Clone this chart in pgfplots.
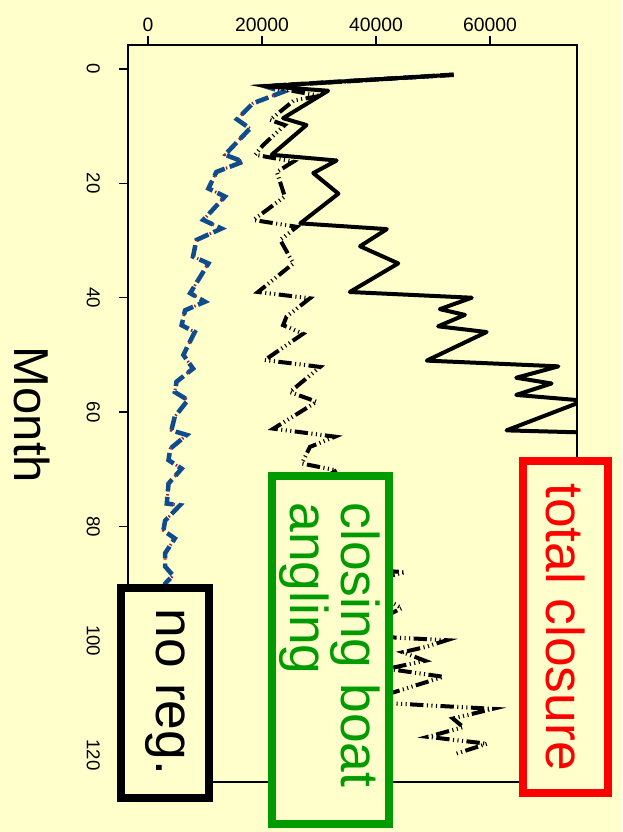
\documentclass[border=0pt]{standalone}
\usepackage{fontspec}
\setmainfont{Liberation Sans}
\usepackage{pgfplots}
\pgfplotsset{compat=1.18}
\definecolor{bg}{RGB}{255,255,204}
\definecolor{noregblue}{RGB}{16,76,140}
\definecolor{noregred}{RGB}{160,20,80}
\definecolor{boxgreen}{RGB}{0,155,0}
\begin{document}
\begin{tikzpicture}
\fill[bg] (-96pt,-37.5pt) rectangle (370.5pt,586.5pt);
\begin{axis}[
  at={(0pt,0pt)}, anchor=south west,
  scale only axis, width=336.75pt, height=552.75pt,
  xmin=-3509, xmax=75263, ymin=-4.2, ymax=124.7, y dir=reverse,
  scaled x ticks=false, scaled y ticks=false,
  xtick={0,20000,40000,60000}, xticklabels={0,20000,40000,60000},
  ytick={0,20,40,60,80,100,120}, yticklabels={0,20,40,60,80,100,120},
  xtick pos=right, xticklabel pos=right, ytick pos=left,
  tick align=outside, major tick length=6.5pt,
  axis line style={line width=1pt},
  every tick/.style={black, line width=0.9pt},
  xticklabel style={font=\fontsize{14.5}{16}\selectfont},
  yticklabel style={font=\fontsize{14}{16}\selectfont, rotate=-90, anchor=north},
  yticklabel shift=11pt,
  axis background/.style={fill=bg},
]
% no reg. (red dotted underneath)
\addplot[noregred, line width=2.2pt, dash pattern=on 1pt off 3pt] coordinates {
(53600,1) (20500,3) (23700,4) (18400,6) (15600,8.8) (17900,10.4) (13500,15) (16700,16.2)
(12000,18) (10600,20.9) (13500,22.3) (9700,26.4) (12900,27.9) (8500,29.9) (7900,32.8)
(10600,34) (7400,39.2) (10000,40.7) (6500,42.2) (5900,44.8) (8200,46) (6200,50) (7900,52.4)
(5000,54.7) (4700,56.5) (7000,57.9) (4700,60.8) (4100,63.2) (6800,64) (3900,66.4) (3600,68.4)
(5900,69.9) (3600,72.5) (3300,76) (5600,76.3) (3000,79) (2700,80.7) (4700,82.1) (3000,84.7)
(3000,87) (4400,88.6) (3000,90) (2900,91) (2700,93.5) (4200,94.3) (2600,97) (2500,99)
(3800,100.5) (2500,103) (2400,106) (3600,106.5) (2400,109) (2300,111) (3400,112.5)
(2300,115) (2200,118) (3300,118.5) (2200,120)};
% no reg. (blue dashed)
\addplot[noregblue, line width=3.4pt, dash pattern=on 10pt off 4pt] coordinates {
(53600,1) (20500,3) (23700,4) (18400,6) (15600,8.8) (17900,10.4) (13500,15) (16700,16.2)
(12000,18) (10600,20.9) (13500,22.3) (9700,26.4) (12900,27.9) (8500,29.9) (7900,32.8)
(10600,34) (7400,39.2) (10000,40.7) (6500,42.2) (5900,44.8) (8200,46) (6200,50) (7900,52.4)
(5000,54.7) (4700,56.5) (7000,57.9) (4700,60.8) (4100,63.2) (6800,64) (3900,66.4) (3600,68.4)
(5900,69.9) (3600,72.5) (3300,76) (5600,76.3) (3000,79) (2700,80.7) (4700,82.1) (3000,84.7)
(3000,87) (4400,88.6) (3000,90) (2900,91) (2700,93.5) (4200,94.3) (2600,97) (2500,99)
(3800,100.5) (2500,103) (2400,106) (3600,106.5) (2400,109) (2300,111) (3400,112.5)
(2300,115) (2200,118) (3300,118.5) (2200,120)};
% closing boat angling (dash-dot)
\addplot[black, line width=3pt, dash pattern=on 10pt off 2.6pt on 0.8pt off 2.6pt on 0.8pt off 2.6pt on 0.8pt off 2.6pt] coordinates {
(53600,1) (20800,3) (30200,4.7) (25600,5.5) (21400,8.9) (24000,9.8) (20200,13.3) (18800,15)
(25500,16.2) (22600,18) (24000,22.3) (18500,26.4) (26100,27.6) (23200,29.9) (25500,34)
(19300,39) (28400,40.1) (24300,43.3) (23700,44.8) (27200,46.3) (20500,50.9) (30200,52.1)
(24900,56.5) (29600,58.2) (22000,62.9) (32800,64.3) (28400,66.1) (27000,69) (33100,70.2)
(25000,75) (36000,76) (31000,78) (39000,82) (29000,87) (45100,88) (37000,90) (44500,94.3)
(35000,99) (52400,99.9) (48600,101.1) (44700,102) (48600,103.5) (42000,104.9) (51800,106.3)
(42500,109.2) (40000,110.8) (60500,111.9) (53500,113.6) (55300,115.1) (49100,116.8)
(59500,118) (53900,119.8)};
% total closure (solid)
\addplot[black, line width=3pt, line join=round] coordinates {
(53600,1) (20500,3) (31600,3.8) (23700,8.6) (27800,9.8) (21700,15) (33100,16) (29000,18.2)
(33400,21.8) (26700,27) (41900,28) (37200,31) (43900,34) (35400,39) (56800,40) (51200,42)
(55600,43) (50900,45) (59400,46) (48900,51) (72000,52) (64600,54) (70800,55) (64600,57)
(76500,58) (62900,63.2) (85000,63.8)};
\end{axis}
% legend boxes
\draw[red, line width=6pt, fill=bg] (296.25pt,-8.25pt) rectangle (360pt,240.75pt);
\draw[boxgreen, line width=6pt, fill=bg] (107.625pt,-31.5pt) rectangle (195.75pt,229.5pt);
\draw[black, line width=6pt, fill=bg] (-5.25pt,-12pt) rectangle (60.75pt,145.5pt);
\node[red, rotate=-90, font=\fontsize{40}{40}\selectfont] at (328.125pt,116.25pt) {total closure};
\node[boxgreen, rotate=-90, align=left, font=\fontsize{40}{36}\selectfont] at (151.5pt,102.75pt) {closing boat\\angling};
\node[black, rotate=-90, font=\fontsize{40}{40}\selectfont] at (27.75pt,67.5pt) {no reg.};
\node[black, rotate=-90, font=\fontsize{36.75}{40}\selectfont] at (-72pt,275.25pt) {Month};
\pgfresetboundingbox
\useasboundingbox (-96pt,-37.5pt) rectangle (370.5pt,586.5pt);
\end{tikzpicture}
\end{document}
